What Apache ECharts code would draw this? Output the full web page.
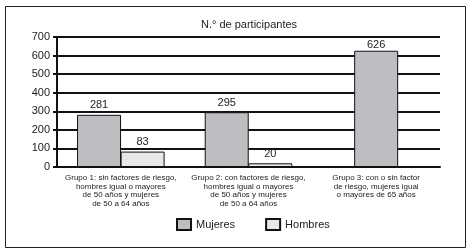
<!DOCTYPE html>
<html>
<head>
<meta charset="utf-8">
<script src="https://cdn.jsdelivr.net/npm/echarts@6/dist/echarts.min.js"></script>
<style>
  html, body { margin: 0; padding: 0; background: #fff; }
  #chart { width: 471px; height: 251px; }
</style>
</head>
<body>
<div id="chart"></div>
<script>
// categorias del eje x
var grupos = [
    "Grupo 1: sin factores de riesgo,\nhombres igual o mayores\nde 50 años y mujeres\nde 50 a 64 años",
    "Grupo 2: con factores de riesgo,\nhombres igual o mayores\nde 50 años y mujeres\nde 50 a 64 años",
    "Grupo 3: con o sin factor\nde riesgo, mujeres igual\no mayores de 65 años"
];
var mujeres = [281, 295, '-'];
var hombres = [83, 20, '-'];
// grupo 3 solo tiene mujeres, va centrada en otro eje
var mujeresG3 = ['-', '-', 626];
var yTicks = [0, 700, 100];

var chart = echarts.init(document.getElementById('chart'));
var font = "'Liberation Sans', Arial, sans-serif";
var option = {
    animation: false,
    textStyle: { fontFamily: font, color: '#222' },
    title: {
        text: 'N.° de participantes',
        left: 244,
        top: 14,
        textAlign: 'center',
        textStyle: { fontSize: 11, fontWeight: 'normal', color: '#222', fontFamily: font }
    },
    graphic: [{
        type: 'rect',
        shape: { x: 5.5, y: 6.5, width: 460, height: 241 },
        style: { fill: 'none', stroke: '#222', lineWidth: 1 },
        silent: true
    }],
    grid: { left: 57, right: 31, top: 37, bottom: 84 },
    legend: {
        data: ['Mujeres', 'Hombres'],
        top: 213,
        left: 171,
        icon: 'rect',
        itemWidth: 14,
        itemHeight: 11,
        itemGap: 30,
        textStyle: { fontSize: 11, color: '#222', fontFamily: font }
    },
    xAxis: [{
        type: 'category',
        data: grupos,
        axisLine: { lineStyle: { color: '#111', width: 2 } },
        axisTick: { length: 4, lineStyle: { color: '#111', width: 2 } },
        axisLabel: { interval: 0, fontSize: 8, lineHeight: 8.5, color: '#222', margin: 7 }
    }, {
        type: 'category',
        data: grupos,
        show: false
    }],
    yAxis: {
        type: 'value',
        min: yTicks[0],
        max: yTicks[1],
        interval: yTicks[2],
        axisLine: { show: true, lineStyle: { color: '#111', width: 2 } },
        axisTick: { show: true, length: 4, lineStyle: { color: '#111', width: 2 } },
        splitLine: { lineStyle: { color: '#111', width: 2 } },
        axisLabel: { fontSize: 11, color: '#222', margin: 7 }
    },
    series: [{
        name: 'Mujeres',
        type: 'bar',
        xAxisIndex: 0,
        data: mujeres,
        barWidth: 44,
        barGap: '-1%',
        itemStyle: { color: '#bdbec1', borderColor: '#111', borderWidth: 1 },
        label: { show: true, position: 'top', fontSize: 11, color: '#222', distance: 4 }
    }, {
        name: 'Hombres',
        type: 'bar',
        xAxisIndex: 0,
        data: hombres,
        barWidth: 44,
        barGap: '-1%',
        itemStyle: { color: '#e8e8e8', borderColor: '#111', borderWidth: 1 },
        label: { show: true, position: 'top', fontSize: 11, color: '#222', distance: 4 }
    }, {
        name: 'Mujeres',
        type: 'bar',
        xAxisIndex: 1,
        data: mujeresG3,
        barWidth: 44,
        itemStyle: { color: '#bdbec1', borderColor: '#111', borderWidth: 1 },
        label: { show: true, position: 'top', fontSize: 11, color: '#222', distance: 0 }
    }]
};
chart.setOption(option);
</script>
</body>
</html>
